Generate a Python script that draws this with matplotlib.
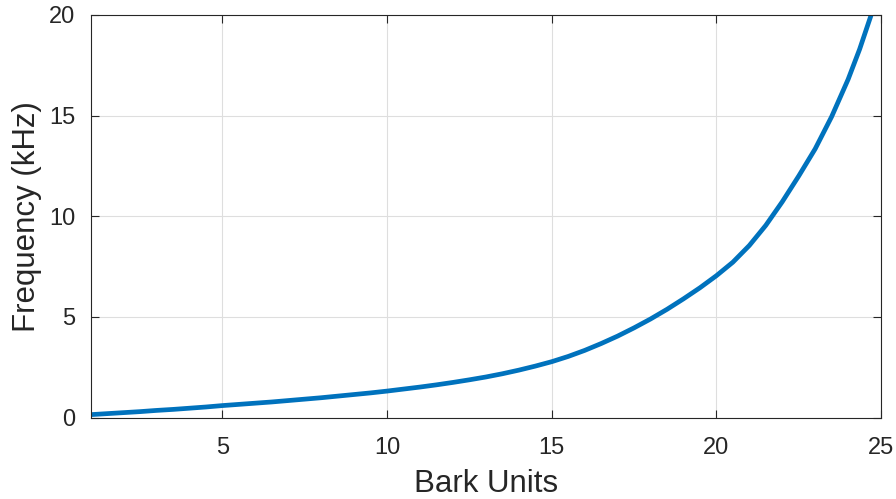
import matplotlib
matplotlib.use('Agg')
import matplotlib.pyplot as plt

# Bark scale -> frequency (kHz)
bark = [1, 1.5, 2, 2.5, 3, 3.5, 4, 4.5, 5, 5.5, 6, 6.5, 7, 7.5, 8, 8.5,
        9, 9.5, 10, 10.5, 11, 11.5, 12, 12.5, 13, 13.5, 14, 14.5, 15, 15.5,
        16, 16.5, 17, 17.5, 18, 18.5, 19, 19.5, 20, 20.5, 21, 21.5, 22,
        22.5, 23, 23.5, 24, 24.35, 24.7]
freq_khz = [0.15, 0.2, 0.25, 0.3, 0.36, 0.41, 0.47, 0.53, 0.6, 0.66, 0.72,
            0.78, 0.85, 0.92, 0.99, 1.07, 1.15, 1.23, 1.32, 1.42, 1.52,
            1.63, 1.75, 1.88, 2.02, 2.18, 2.36, 2.56, 2.78, 3.04, 3.34,
            3.68, 4.05, 4.46, 4.9, 5.38, 5.9, 6.45, 7.05, 7.72, 8.55, 9.55,
            10.72, 12.0, 13.35, 14.95, 16.8, 18.3, 20.0]

x_ticks = [5, 10, 15, 20, 25]
y_ticks = [0, 5, 10, 15, 20]

plt.rcParams['font.family'] = ['Liberation Sans', 'DejaVu Sans']
dark = '#262626'

fig = plt.figure(figsize=(8.96, 4.99), dpi=100)
ax = fig.add_axes([0.1012, 0.163, 0.8821, 0.807])

ax.plot(bark, freq_khz, color='#0072BD', linewidth=3.4,
        solid_capstyle='butt', solid_joinstyle='round')

ax.set_xlim(1, 25)
ax.set_ylim(0, 20)
ax.set_xticks(x_ticks)
ax.set_yticks(y_ticks)
ax.grid(True, color='#dedede', linewidth=0.8)
ax.set_axisbelow(True)

ax.tick_params(direction='in', top=True, right=True, length=6, width=0.8,
               colors=dark, labelsize=17, pad=11)
ax.tick_params(axis='x', pad=14)
for s in ax.spines.values():
    s.set_color(dark)
    s.set_linewidth(0.8)

ax.set_xlabel('Bark Units', fontsize=22.5, color=dark, labelpad=7)
ax.set_ylabel('Frequency (kHz)', fontsize=22.5, color=dark, labelpad=5)

plt.savefig('out.png', dpi=100)
